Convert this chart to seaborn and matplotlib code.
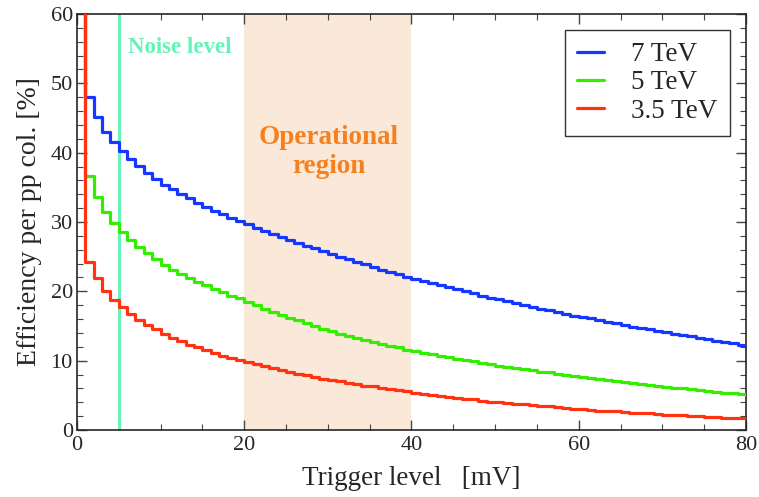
import numpy as np
import pandas as pd
import matplotlib
matplotlib.use("Agg")
import matplotlib.pyplot as plt
import seaborn as sn
from matplotlib.ticker import MultipleLocator

# trigger level in mV (x=0 step lies above the plotted range)
trigger = list(range(0, 81))

eff_7tev = [100.0,
    48.0, 45.2, 43.0, 41.5, 40.2, 39.1, 38.1, 37.1, 36.2, 35.4,
    34.7, 34.0, 33.4, 32.8, 32.2, 31.6, 31.1, 30.6, 30.2, 29.7,
    29.2, 28.7, 28.3, 27.9, 27.4, 27.0, 26.6, 26.2, 25.8, 25.4,
    25.0, 24.6, 24.2, 23.9, 23.5, 23.1, 22.8, 22.5, 22.1, 21.8,
    21.5, 21.2, 20.9, 20.6, 20.3, 20.0, 19.7, 19.4, 19.1, 18.9,
    18.6, 18.3, 18.1, 17.8, 17.5, 17.3, 17.0, 16.8, 16.5, 16.3,
    16.1, 15.8, 15.6, 15.4, 15.2, 14.9, 14.7, 14.5, 14.3, 14.1,
    13.9, 13.7, 13.5, 13.3, 13.1, 12.9, 12.7, 12.5, 12.3, 12.1]

eff_5tev = [100.0,
    36.6, 33.6, 31.5, 29.9, 28.6, 27.4, 26.4, 25.5, 24.6, 23.8,
    23.1, 22.5, 21.9, 21.4, 20.9, 20.4, 19.9, 19.4, 19.0, 18.5,
    18.0, 17.5, 17.0, 16.6, 16.2, 15.8, 15.4, 15.0, 14.6, 14.3,
    13.9, 13.6, 13.3, 13.0, 12.7, 12.4, 12.1, 11.9, 11.6, 11.4,
    11.1, 10.9, 10.7, 10.5, 10.3, 10.1, 9.9, 9.7, 9.5, 9.3,
    9.1, 8.9, 8.8, 8.6, 8.4, 8.3, 8.1, 7.9, 7.8, 7.6,
    7.5, 7.3, 7.2, 7.0, 6.9, 6.8, 6.6, 6.5, 6.4, 6.2,
    6.1, 6.0, 5.9, 5.7, 5.6, 5.5, 5.4, 5.3, 5.2, 5.0]

eff_35tev = [100.0,
    24.3, 21.9, 20.1, 18.8, 17.7, 16.7, 15.9, 15.1, 14.5, 13.9,
    13.3, 12.8, 12.3, 11.9, 11.5, 11.1, 10.7, 10.4, 10.1, 9.8,
    9.5, 9.2, 8.9, 8.6, 8.4, 8.1, 7.9, 7.6, 7.4, 7.2,
    7.0, 6.8, 6.6, 6.4, 6.3, 6.1, 5.9, 5.8, 5.6, 5.4,
    5.2, 5.1, 4.9, 4.8, 4.6, 4.5, 4.4, 4.2, 4.1, 4.0,
    3.9, 3.8, 3.7, 3.6, 3.5, 3.4, 3.3, 3.2, 3.1, 3.0,
    2.9, 2.8, 2.7, 2.7, 2.6, 2.5, 2.4, 2.4, 2.3, 2.2,
    2.2, 2.1, 2.0, 2.0, 1.9, 1.9, 1.8, 1.7, 1.7, 1.6]

labels = ["7 TeV", "5 TeV", "3.5 TeV"]
colors = ["#1438ff", "#33ee00", "#ff3311"]
noise_level = 5
operational = (20, 40)

df = pd.DataFrame({"trigger": trigger, "7 TeV": eff_7tev,
                   "5 TeV": eff_5tev, "3.5 TeV": eff_35tev})
long_df = df.melt(id_vars="trigger", var_name="energy", value_name="eff")

sn.set_style("ticks")
plt.rcParams["font.family"] = ["Liberation Serif", "DejaVu Serif"]

fig = plt.figure(figsize=(7.59, 4.97), dpi=100)
ax = fig.add_axes([0.1014, 0.1348, 0.8814, 0.837])

ax.axvspan(operational[0], operational[1], color="#fae9d8", lw=0, zorder=0)
ax.axvline(noise_level, color="#66f2b9", lw=2.2, zorder=1)

sn.lineplot(data=long_df, x="trigger", y="eff", hue="energy",
            hue_order=labels, palette=colors, drawstyle="steps-post",
            lw=2.3, ax=ax, zorder=3)

ax.text(6.1, 55.2, "Noise level", color="#66f2b9", fontsize=16.5,
        fontweight="bold", ha="left", va="center")
ax.text(30.1, 40.1, "Operational\nregion", color="#f7801e", fontsize=19.5,
        fontweight="bold", ha="center", va="center", linespacing=1.2)

ax.set_xlim(0, 80)
ax.set_ylim(0, 60)
ax.xaxis.set_major_locator(MultipleLocator(20))
ax.xaxis.set_minor_locator(MultipleLocator(5))
ax.yaxis.set_major_locator(MultipleLocator(10))
ax.yaxis.set_minor_locator(MultipleLocator(2))
ax.tick_params(which="both", direction="in", top=True, right=True,
               labelsize=16, color="#444444")
ax.tick_params(which="major", length=7, width=1)
ax.tick_params(which="minor", length=4, width=0.8)
ax.tick_params(axis="x", pad=4)
ax.tick_params(axis="y", pad=3)
for s in ax.spines.values():
    s.set_linewidth(1.2)

ax.set_xlabel("Trigger level   [mV]", fontsize=19.5, labelpad=8)
ax.set_ylabel("Efficiency per pp col. [%]", fontsize=20, labelpad=6)

leg = ax.legend(loc="upper right", fontsize=19.5, frameon=True, fancybox=False,
                edgecolor="black", handlelength=1.0, handletextpad=1.0,
                labelspacing=0.12, borderpad=0.45, borderaxespad=0,
                bbox_to_anchor=(0.976, 0.962))
leg.get_frame().set_linewidth(1.0)

fig.savefig("out.png", dpi=100)
